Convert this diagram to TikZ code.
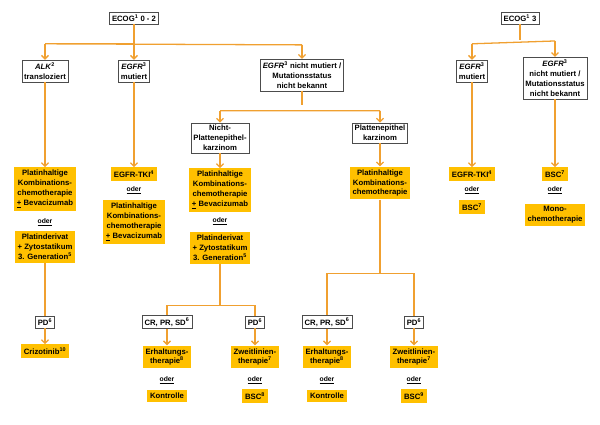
\documentclass[tikz,border=0pt]{standalone}
\usepackage{fontspec}
\setmainfont{Liberation Sans}
\usepackage{tikz}
\usetikzlibrary{calc,arrows.meta}
\usepackage{xcolor}
\definecolor{gold}{HTML}{FFC000}
\definecolor{linie}{HTML}{F0A030}
\tikzset{
  wb/.style={draw=black!70, fill=white, align=center, inner sep=2pt, font=\fontsize{6.6}{8.4}\selectfont\bfseries},
  yb/.style={fill=gold, align=center, inner sep=2.5pt, font=\fontsize{6.6}{8.4}\selectfont\bfseries},
  od/.style={inner sep=1pt, font=\fontsize{5.8}{7}\selectfont\bfseries},
  ln/.style={draw=linie, line width=1.1pt},
  ar/.style={ln, -{Straight Barb[length=3pt,width=6pt]}}
}
\begin{document}
\begin{tikzpicture}[x=0.03cm, y=-0.03cm]
  \useasboundingbox (0,0) rectangle (600,424);
  % Top row
  \node[wb] (ecoga) at (134,18) {ECOG\textsuperscript{1} 0 - 2};
  \node[wb] (ecogb) at (520,18) {ECOG\textsuperscript{1} 3};
  \node[wb] (alk) at (45,71) {\textit{ALK}\textsuperscript{2}\\transloziert};
  \node[wb] (egfra) at (134,71) {\textit{EGFR}\textsuperscript{3}\\mutiert};
  \node[wb] (egfrb) at (302,75) {\textit{EGFR}\textsuperscript{3} nicht mutiert /\\Mutationsstatus\\nicht bekannt};
  \node[wb] (egfrc) at (472,71) {\textit{EGFR}\textsuperscript{3}\\mutiert};
  \node[wb] (egfrd) at (555,78) {\textit{EGFR}\textsuperscript{3}\\nicht mutiert /\\Mutationsstatus\\nicht bekannt};
  \node[wb] (nicht) at (220,138) {Nicht-\\Plattenepithel-\\karzinom};
  \node[wb] (platt) at (380,133) {Plattenepithel\\karzinom};

  % Therapies
  \node[yb] (t1a) at (45,189) {Platinhaltige\\Kombinations-\\chemotherapie\\\underline{+} Bevacizumab};
  \node[od] (o1) at (45,222) {\underline{oder}};
  \node[yb] (t1b) at (45,247) {Platinderivat\\+ Zytostatikum\\3. Generation\textsuperscript{5}};
  \node[wb] (pd1) at (45,322) {PD\textsuperscript{6}};
  \node[yb] (criz) at (45,351) {Crizotinib\textsuperscript{10}};

  \node[yb] (t2a) at (134,174) {EGFR-TKI\textsuperscript{4}};
  \node[od] (o2) at (134,190) {\underline{oder}};
  \node[yb] (t2b) at (134,222) {Platinhaltige\\Kombinations-\\chemotherapie\\\underline{+} Bevacizumab};

  \node[yb] (t3a) at (220,190) {Platinhaltige\\Kombinations-\\chemotherapie\\\underline{+} Bevacizumab};
  \node[od] (o3) at (220,221) {\underline{oder}};
  \node[yb] (t3b) at (220,248) {Platinderivat\\+ Zytostatikum\\3. Generation\textsuperscript{5}};

  \node[yb] (t4) at (380,183) {Platinhaltige\\Kombinations-\\chemotherapie};

  \node[yb] (t5a) at (472,174) {EGFR-TKI\textsuperscript{4}};
  \node[od] (o5) at (472,190) {\underline{oder}};
  \node[yb] (t5b) at (472,207) {BSC\textsuperscript{7}};
  \node[yb] (t6a) at (555,174) {BSC\textsuperscript{7}};
  \node[od] (o6) at (555,190) {\underline{oder}};
  \node[yb] (t6b) at (555,215) {Mono-\\chemotherapie};

  % Response rows
  \node[wb] (cr1) at (167,322) {CR, PR, SD\textsuperscript{6}};
  \node[wb] (pd2) at (255,322) {PD\textsuperscript{6}};
  \node[wb] (cr2) at (327,322) {CR, PR, SD\textsuperscript{6}};
  \node[wb] (pd3) at (414,322) {PD\textsuperscript{6}};
  \node[yb] (e1) at (167,357) {Erhaltungs-\\therapie\textsuperscript{8}};
  \node[od] (o7) at (167,380) {\underline{oder}};
  \node[yb] (k1) at (167,396) {Kontrolle};
  \node[yb] (z1) at (255,357) {Zweitlinien-\\therapie\textsuperscript{7}};
  \node[od] (o8) at (255,380) {\underline{oder}};
  \node[yb] (b1) at (255,396) {BSC\textsuperscript{8}};
  \node[yb] (e2) at (327,357) {Erhaltungs-\\therapie\textsuperscript{8}};
  \node[od] (o9) at (327,380) {\underline{oder}};
  \node[yb] (k2) at (327,396) {Kontrolle};
  \node[yb] (z2) at (414,357) {Zweitlinien-\\therapie\textsuperscript{7}};
  \node[od] (o10) at (414,380) {\underline{oder}};
  \node[yb] (b2) at (414,396) {BSC\textsuperscript{9}};

  % Connectors
  \draw[ln] (ecoga.south) |- ($(alk.north)+(0,-16)$);
  \draw[ln] ($(alk.north)+(0,-16)$) -- ($(egfrb.north)+(0,-14)$);
  \draw[ar] ($(alk.north)+(0,-16)$) -- (alk.north);
  \draw[ar] (ecoga.south) -- (egfra.north);
  \draw[ar] ($(egfrb.north)+(0,-14)$) -- (egfrb.north);
  \draw[ln] (ecogb.south) -- ($(ecogb.south)+(0,16)$);
  \draw[ln] ($(egfrc.north)+(0,-16)$) -- ($(egfrd.north)+(0,-16)$);
  \draw[ar] ($(egfrc.north)+(0,-16)$) -- (egfrc.north);
  \draw[ar] ($(egfrd.north)+(0,-16)$) -- (egfrd.north);
  \draw[ln] (egfrb.south) -- ($(egfrb.south)+(0,14)$);
  \draw[ln] ($(nicht.north)+(0,-12)$) -- ($(platt.north)+(0,-12)$);
  \draw[ar] ($(nicht.north)+(0,-12)$) -- (nicht.north);
  \draw[ar] ($(platt.north)+(0,-12)$) -- (platt.north);
  \draw[ar] (alk) -- (t1a);
  \draw[ar] (egfra) -- (t2a);
  \draw[ar] (nicht) -- (t3a);
  \draw[ar] (platt) -- (t4);
  \draw[ar] (egfrc) -- (t5a);
  \draw[ar] (egfrd) -- (t6a);
  \draw[ln] (t1b) -- (pd1);
  \draw[ar] (pd1) -- (criz);
  \draw[ln] (t3b.south) |- ($(cr1.north)+(0,-10)$) -- (cr1.north);
  \draw[ln] ($(cr1.north)+(0,-10)$) -| (pd2.north);
  \draw[ln] (t4.south) |- ($(cr2.north)+(0,-42)$) -- (cr2.north);
  \draw[ln] ($(cr2.north)+(0,-42)$) -| (pd3.north);
  \draw[ar] (cr1) -- (e1);
  \draw[ar] (pd2) -- (z1);
  \draw[ar] (cr2) -- (e2);
  \draw[ar] (pd3) -- (z2);
\end{tikzpicture}
\end{document}
